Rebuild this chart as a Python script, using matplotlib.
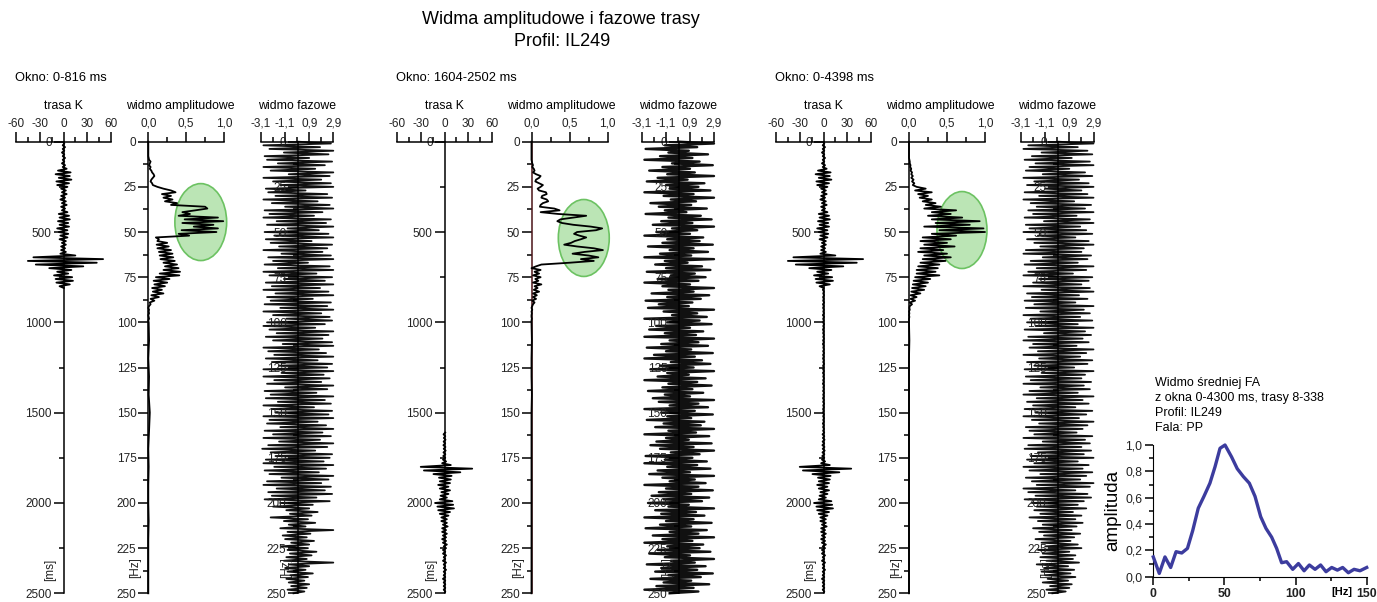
import numpy as np
import matplotlib
matplotlib.use("Agg")
import matplotlib.pyplot as plt
from matplotlib.patches import Ellipse

plt.rcParams['font.family'] = ['Liberation Sans', 'DejaVu Sans']

# ---------------- data ----------------
# trace K, sampled every 10 ms from 0 to 2500 ms
czas_ms = np.arange(0, 2510, 10)
trasa_K = [
    # 0-140 ms
    0, 1, -1, 2, -1, 1, -2, 1, -1, 2, -1, 1, -2, 2, -1,
    # 150-260 ms
    4, -7, 9, -10, 8, -6, 10, -9, 7, -8, 5, -3,
    # 270-380 ms
    3, -2, 4, -3, 2, -4, 3, -2, 4, -3, 2, -2,
    # 390-540 ms
    5, -6, 7, -5, 8, -7, 6, -5, 7, -8, 5, -6, 6, -4, 5, -5,
    # 550-620 ms
    3, -2, 3, -3, 2, -3, 3, -4,
    # 630-700 ms
    15, -38, 50, -45, 42, -35, 25, -18,
    # 710-730 ms
    10, -8, 6,
    # 740-800 ms
    -12, 11, -10, 12, -9, 8, -5,
    # 810-1740 ms
    0.5, -0.8, 0.6, -0.4, 0.7, -0.6, 0.3, -0.5, 0.8, -0.7,
    0.4, -0.6, 0.5, -0.3, 0.6, -0.8, 0.7, -0.5, 0.4, -0.6,
    0.8, -0.4, 0.5, -0.7, 0.3, -0.5, 0.6, -0.4, 0.7, -0.6,
    0.5, -0.8, 0.4, -0.3, 0.6, -0.5, 0.7, -0.6, 0.4, -0.7,
    0.5, -0.4, 0.8, -0.6, 0.3, -0.5, 0.6, -0.7, 0.5, -0.4,
    0.7, -0.5, 0.4, -0.8, 0.6, -0.3, 0.5, -0.6, 0.7, -0.4,
    0.4, -0.7, 0.6, -0.5, 0.8, -0.4, 0.5, -0.6, 0.3, -0.7,
    0.6, -0.5, 0.7, -0.4, 0.5, -0.8, 0.4, -0.6, 0.7, -0.5,
    0.9, -1.2, 1.0, -0.8, 1.3, -1.1, 0.9, -1.4, 1.2, -1.0,
    1.5, -1.3, 1.1, -1.6,
    # 1750-2080 ms
    1, -2, 2, -3,
    8, -30, 35, -26, 20, -14, 9,
    -7, 8, -6, 7, -8, 5, -6, 7, -4, 5, -5, 3,
    -6, 10, -12, 11, -9, 12, -8, 7, -6, 5, -4,
    # 2090-2500 ms
    3, -4, 3, -2, 4, -3, 2, -3, 3, -2,
    2, -3, 2, -2, 3, -1, 2, -2, 1, -2,
    2, -1, 1, -2, 2, -1, 1, -1, 2, -1,
    1, -1, 1, -2, 1, -1, 1, -1, 1, -1,
    1, 0,
]

okna = [(0, 816), (1604, 2502), (0, 4398)]
okna_txt = ["Okno: 0-816 ms", "Okno: 1604-2502 ms", "Okno: 0-4398 ms"]

# amplitude spectra: 1 Hz step up to 100 Hz, then 10 Hz step
f_amp = np.concatenate([np.arange(0, 101), np.arange(110, 251, 10)])
amp_1 = [
    0, 0, 0, 0, 0, 0, 0, 0, 0, 0.005,
    0.01, 0.03, 0.02, 0.01, 0.03, 0.02, 0.04, 0.05, 0.07, 0.08,
    0.06, 0.04, 0.03, 0.05, 0.06, 0.12, 0.2, 0.3, 0.36, 0.18,
    0.3, 0.2, 0.32, 0.22, 0.38, 0.3, 0.75, 0.78, 0.62, 0.45,
    0.55, 0.4, 0.92, 0.48, 0.99, 0.45, 0.86, 0.6, 0.92, 0.44,
    0.9, 0.4, 0.54, 0.1, 0.14, 0.12, 0.25, 0.11, 0.27, 0.12,
    0.3, 0.14, 0.32, 0.15, 0.33, 0.16, 0.35, 0.2, 0.38, 0.22,
    0.4, 0.2, 0.42, 0.15, 0.41, 0.1, 0.28, 0.07, 0.25, 0.08,
    0.22, 0.05, 0.18, 0.06, 0.2, 0.04, 0.14, 0.03, 0.08, 0.02,
    0.03, 0.01, 0.0, 0.01, 0.005, 0.01, 0.0, 0.005, 0.01, 0.0,
    0.005,
    0.01, 0.0, 0.01, 0.005, 0.02, 0.01, 0.0, 0.005, 0.0, 0.0,
    0.005, 0.0, 0.0, 0.0, 0.0,
]
amp_2 = [
    0, 0, 0, 0, 0, 0, 0, 0, 0, 0,
    0, 0.005, 0.01, 0.02, 0.01, 0.03, 0.04, 0.02, 0.06, 0.12,
    0.1, 0.06, 0.05, 0.1, 0.15, 0.12, 0.08, 0.1, 0.19, 0.2,
    0.14, 0.13, 0.2, 0.22, 0.15, 0.12, 0.11, 0.3, 0.37, 0.12,
    0.35, 0.72, 0.55, 0.38, 0.34, 0.4, 0.55, 0.78, 0.93, 0.85,
    0.6, 0.56, 0.63, 0.72, 0.65, 0.57, 0.52, 0.43, 0.6, 0.82,
    0.94, 0.7, 0.54, 0.75, 0.88, 0.65, 0.82, 0.5, 0.13, 0.06,
    0.0, 0.12, 0.04, 0.1, 0.02, 0.12, 0.05, 0.09, 0.02, 0.13,
    0.04, 0.08, 0.03, 0.1, 0.02, 0.07, 0.02, 0.06, 0.01, 0.04,
    0.02, 0.01, 0.0, 0.01, 0.0, 0.005, 0.0, 0.0, 0.005, 0.0,
    0.0,
    0.005, 0.0, 0.0, 0.005, 0.0, 0.0, 0.0, 0.0, 0.0, 0.0,
    0.0, 0.0, 0.0, 0.0, 0.0,
]
amp_3 = [
    0, 0, 0, 0, 0, 0, 0, 0, 0, 0,
    0.005, 0.01, 0.01, 0.02, 0.015, 0.03, 0.02, 0.04, 0.03, 0.05,
    0.03, 0.06, 0.04, 0.07, 0.05, 0.1, 0.22, 0.08, 0.3, 0.12,
    0.25, 0.14, 0.3, 0.18, 0.35, 0.22, 0.42, 0.2, 0.62, 0.3,
    0.55, 0.25, 0.7, 0.3, 0.93, 0.35, 0.8, 0.2, 0.98, 0.4,
    1.0, 0.3, 0.62, 0.18, 0.55, 0.15, 0.5, 0.2, 0.6, 0.15,
    0.45, 0.12, 0.5, 0.2, 0.55, 0.18, 0.48, 0.15, 0.4, 0.12,
    0.38, 0.1, 0.35, 0.1, 0.4, 0.08, 0.28, 0.06, 0.25, 0.05,
    0.22, 0.04, 0.2, 0.03, 0.15, 0.02, 0.1, 0.02, 0.08, 0.01,
    0.04, 0.01, 0.005, 0.01, 0.0, 0.005, 0.0, 0.005, 0.0, 0.0,
    0.0,
    0.005, 0.0, 0.0, 0.0, 0.0, 0.0, 0.0, 0.0, 0.0, 0.0,
    0.0, 0.0, 0.0, 0.0, 0.0,
]

# phase spectra, 1 Hz step
f_faz = np.arange(0, 251, 1)
faz_1 = [
    0.0, 2.7, -2.9, 1.8, -2.4, 2.9, -1.2, 2.5, -2.8, 0.9,
    -2.6, 2.8, -1.7, 2.2, -2.9, 1.4, -2.3, 2.9, -0.8, 2.6,
    -2.9, 1.9, -2.1, 2.7, -1.5, 2.9, -2.7, 0.6, -2.5, 2.4,
    -1.9, 2.8, -2.9, 1.6, -2.2, 2.6, -1.1, 2.9, -2.8, 2.0,
    -2.4, 1.3, -2.9, 2.7, -1.8, 2.3, -2.6, 2.9, -0.9, 1.7,
    -2.8, 2.5, -2.0, 2.9, -2.7, 1.1, -2.3, 2.8, -1.6, 2.4,
    -2.9, 2.0, -1.4, 2.7, -2.5, 2.9, -2.1, 0.8, -2.8, 2.6,
    -1.7, 2.9, -2.9, 1.5, -2.4, 2.8, -1.2, 2.2, -2.7, 2.9,
    -2.2, 1.8, -2.9, 2.5, -1.9, 2.9, -2.6, 1.2, -2.3, 2.7,
    -2.8, 2.4, -1.5, 2.9, -2.9, 1.9, -2.1, 2.6, -1.0, 2.8,
    -2.6, 2.2, -2.9, 1.4, -2.4, 2.9, -1.8, 2.5, -2.7, 2.0,
    -2.1, 2.8, -1.3, 2.9, -2.9, 1.7, -2.5, 2.3, -2.0, 2.9,
    -2.7, 1.6, -2.2, 2.8, -1.6, 2.4, -2.9, 2.9, -1.4, 2.1,
    -2.9, 2.6, -2.0, 1.9, -2.6, 2.9, -1.1, 2.4, -2.8, 1.5,
    -2.3, 2.9, -2.7, 2.2, -1.7, 2.7, -2.9, 1.3, -2.2, 2.8,
    -1.9, 2.5, -2.9, 2.9, -2.4, 1.6, -2.6, 2.3, -1.5, 2.9,
    -2.8, 2.0, -2.1, 2.7, -2.9, 1.8, -1.6, 2.9, -2.5, 2.4,
    -3.0, 1.4, -2.3, 2.8, -1.9, 2.6, -2.7, 2.1, -2.9, 2.9,
    -2.0, 2.3, -2.8, 1.7, -2.4, 2.9, -1.4, 2.5, -2.6, 1.9,
    -2.9, 2.7, -1.8, 2.2, -2.5, 2.8, -2.2, 1.5, -2.8, 2.6,
    -1.5, 1.2, -2.1, 0.9, -1.0, 1.6, -0.7, 1.1, -2.3, 0.8,
    -1.2, 1.4, -0.8, 0.6, -1.5, 2.9, -0.9, 1.0, -1.3, 0.7,
    -1.1, 1.3, -0.6, 0.9, -1.4, 0.8, -0.9, 1.5, -0.7, 1.1,
    -1.0, 0.7, -1.2, 2.9, -0.8, 0.9, -1.1, 0.6, -0.9, 1.2,
    -0.7, 0.8, -1.0, 0.5, -0.8, 0.9, -0.6, 0.7, -0.9, 0.5,
    -0.4,
]
faz_2 = [
    0.0, 2.9, -1.2, 1.5, -2.8, 0.8, -0.9, 2.4, -1.6, 1.1,
    -2.9, 1.7, -0.6, 2.8, -1.4, 0.9, -2.5, 1.3, -1.0, 2.9,
    -1.8, 0.7, -2.7, 2.1, -1.1, 1.6, -0.8, 2.6, -2.9, 1.2,
    -1.3, 2.9, -0.7, 1.4, -2.4, 1.0, -1.7, 2.3, -1.2, 0.6,
    -2.8, 1.8, -0.9, 2.7, -1.5, 1.1, -2.2, 2.9, -0.6, 1.5,
    -1.9, 0.9, -2.9, 2.0, -1.0, 1.7, -1.4, 2.8, -2.6, 1.2,
    -0.8, 2.4, -1.6, 1.0, -2.9, 2.9, -1.2, 0.7, -2.0, 1.9,
    -1.1, 2.6, -2.7, 1.3, -0.7, 2.2, -1.8, 1.6, -2.9, 0.9,
    -1.4, 2.9, -0.9, 1.2, -2.3, 2.5, -1.0, 1.8, -2.8, 1.1,
    -1.7, 0.8, -2.6, 2.9, -1.3, 1.5, -0.6, 2.3, -2.9, 1.7,
    -1.0, 2.7, -1.9, 0.9, -2.5, 2.0, -1.2, 1.4, -2.9, 2.9,
    -0.8, 1.6, -1.5, 2.4, -2.7, 1.0, -1.1, 2.8, -2.1, 1.3,
    -2.9, 1.9, -0.7, 2.6, -1.6, 1.2, -2.4, 2.9, -1.0, 0.8,
    -1.8, 2.2, -2.9, 1.5, -0.9, 2.7, -1.4, 1.1, -2.6, 2.0,
    -1.2, 0.9, -2.2, 2.9, -1.7, 1.6, -0.8, 2.4, -2.9, 1.3,
    -1.5, 2.8, -1.0, 1.0, -2.7, 2.1, -1.3, 1.8, -2.0, 2.9,
    -0.9, 1.4, -2.9, 2.5, -1.1, 0.8, -1.9, 2.7, -2.4, 1.2,
    -1.6, 2.9, -0.7, 1.7, -2.8, 1.1, -1.2, 2.3, -2.9, 1.5,
    -1.0, 2.6, -1.8, 0.9, -2.5, 2.9, -1.4, 1.3, -0.8, 2.2,
    -2.9, 1.6, -1.1, 2.8, -1.7, 1.0, -2.3, 2.5, -1.3, 1.9,
    -2.6, 0.8, -0.9, 2.9, -2.0, 1.4, -1.5, 2.1, -2.9, 1.2,
    -1.1, 2.7, -1.6, 1.0, -2.8, 2.3, -0.8, 1.6, -2.2, 2.9,
    -1.4, 1.1, -2.9, 2.0, -1.0, 1.7, -1.8, 2.6, -2.5, 0.9,
    -1.2, 2.9, -0.7, 1.3, -2.7, 2.2, -1.5, 1.5, -2.0, 2.8,
    -0.9, 1.8, -2.4, 1.0, -1.3, 2.5, -1.9, 1.2, -2.9, 1.6,
    -0.8,
]
faz_3 = [
    0.0, 2.9, -2.5, 1.6, -2.9, 2.4, -1.4, 2.8, -2.2, 1.1,
    -2.8, 2.6, -1.9, 2.9, -2.4, 0.9, -2.7, 2.2, -1.3, 2.8,
    -2.9, 1.7, -2.0, 2.5, -2.6, 2.9, -1.1, 1.9, -2.8, 2.4,
    -1.6, 2.9, -2.9, 1.3, -2.3, 2.7, -1.8, 2.2, -2.5, 2.9,
    -2.1, 1.5, -2.8, 2.6, -1.2, 2.9, -2.7, 1.8, -2.4, 2.3,
    -2.9, 2.8, -1.7, 1.4, -2.6, 2.5, -2.0, 2.9, -1.5, 2.1,
    -2.7, 1.9, -2.9, 2.7, -1.3, 2.4, -2.3, 1.6, -2.8, 2.9,
    -1.8, 2.3, -2.5, 1.2, -2.9, 2.8, -1.6, 2.5, -2.1, 1.9,
    -2.9, 2.6, -1.4, 2.9, -2.6, 1.7, -2.2, 2.4, -2.8, 1.4,
    -2.0, 2.9, -2.7, 2.1, -1.5, 2.6, -2.9, 1.8, -2.3, 2.8,
    -2.6, 1.6, -1.9, 2.9, -2.8, 2.2, -1.2, 2.7, -2.5, 2.0,
    -2.9, 2.5, -2.1, 1.5, -2.4, 2.9, -1.7, 2.3, -2.9, 1.8,
    -1.6, 2.8, -2.6, 2.4, -2.0, 1.3, -2.8, 2.9, -1.4, 2.2,
    -2.7, 1.9, -2.3, 2.7, -2.9, 2.1, -1.5, 2.6, -2.4, 1.6,
    -2.9, 2.9, -1.8, 2.0, -2.6, 2.5, -2.1, 1.4, -2.8, 2.8,
    -1.9, 2.3, -2.9, 1.7, -2.2, 2.9, -1.6, 2.4, -2.7, 2.0,
    -2.4, 1.5, -2.0, 2.8, -2.9, 2.2, -1.3, 2.6, -2.5, 1.9,
    -2.8, 2.7, -1.7, 2.1, -2.3, 2.9, -2.6, 1.6, -2.0, 2.5,
    -2.9, 2.0, -2.4, 2.8, -1.5, 2.3, -2.7, 1.8, -2.2, 2.9,
    -1.8, 2.6, -2.9, 1.4, -2.5, 2.4, -1.9, 2.7, -2.8, 2.1,
    -2.2, 1.6, -1.8, 2.3, -2.0, 1.2, -1.5, 1.9, -2.4, 1.4,
    -1.7, 2.0, -1.3, 1.5, -2.1, 1.1, -1.6, 1.8, -1.2, 1.3,
    -1.9, 1.0, -1.4, 1.6, -1.1, 1.9, -1.7, 0.9, -1.3, 1.4,
    -1.5, 1.2, -1.0, 1.7, -1.8, 0.8, -1.2, 1.3, -1.4, 1.0,
    -1.1, 1.4, -0.9, 0.8, -1.3, 1.1, -0.7, 0.9, -1.0, 0.6,
    -0.5,
]

# averaged spectrum of the section
f_sr = [0, 4.2, 8.2, 12.2, 16, 20, 24, 27.7, 31.6, 35.6, 39.8, 43.4, 46.9,
        50.4, 55, 59, 63.3, 67.5, 71.5, 75.5, 79.2, 83.2, 86.7, 90.2, 93.7,
        98, 102, 106, 109.7, 113.7, 117.6, 121.4, 125.4, 129.4, 133.1, 137.1,
        141.1, 145.3, 150]
a_sr = [0.15, 0.025, 0.15, 0.07, 0.19, 0.18, 0.215, 0.35, 0.52, 0.61, 0.71,
        0.835, 0.975, 1.0, 0.91, 0.82, 0.76, 0.71, 0.61, 0.455, 0.367, 0.30,
        0.215, 0.106, 0.114, 0.056, 0.10, 0.045, 0.089, 0.056, 0.089, 0.038,
        0.07, 0.05, 0.07, 0.03, 0.056, 0.045, 0.07]

# highlighted band in each amplitude spectrum: (amp centre, Hz centre, width, height)
wyrozn = [(0.693, 44.5, 0.684, 42.6), (0.688, 53.3, 0.67, 42.6), (0.697, 48.9, 0.658, 42.6)]

# ---------------- layout ----------------
W, H = 1377, 602
fig = plt.figure(figsize=(W / 100, H / 100), dpi=100)
fig.patch.set_facecolor('white')

Y_TOP, Y_BOT = 141.7, 593.3
panele = [
    dict(trasa=(16, 111), amp=(148.3, 224), faz=(261, 333.3), dx=0),
    dict(trasa=(397, 492), amp=(531.5, 607.5), faz=(642, 714), dx=381),
    dict(trasa=(776, 871), amp=(909, 985), faz=(1021, 1093.5), dx=760),
]
TICK_FS = 8.5


def ax_px(x0, x1, y0, y1):
    return fig.add_axes([x0 / W, 1 - y1 / H, (x1 - x0) / W, (y1 - y0) / H])


def ftext(x, y, s, **kw):
    return fig.text(x / W, 1 - y / H, s, **kw)


def styl(ax, xlim, xmaj, xmin, xlab, ymax, ymaj, ymin, spine_x, kolor='black'):
    ax.set_xlim(*xlim)
    ax.set_ylim(ymax, 0)
    ax.patch.set_alpha(0)
    ax.spines['right'].set_visible(False)
    ax.spines['bottom'].set_visible(False)
    ax.spines['left'].set_position(('data', spine_x))
    ax.spines['left'].set_color(kolor)
    ax.spines['left'].set_linewidth(1.1)
    ax.spines['top'].set_linewidth(1.1)
    ax.xaxis.tick_top()
    ax.set_xticks(xmaj)
    ax.set_xticklabels(xlab)
    ax.set_xticks(xmin, minor=True)
    ax.set_yticks(ymaj)
    ax.set_yticklabels([str(v) for v in ymaj])
    ax.set_yticks(ymin, minor=True)
    ax.tick_params(which='major', length=7, width=1.1, labelsize=TICK_FS,
                   labelcolor='#222222', pad=1.5)
    ax.tick_params(which='minor', length=3.5, width=1.1)
    ax.tick_params(axis='x', which='both', direction='out', top=True,
                   bottom=False, labeltop=True, labelbottom=False)
    ax.tick_params(axis='y', which='both', direction='out', left=True, right=False)


ms_maj = [0, 500, 1000, 1500, 2000, 2500]
ms_min = [250, 750, 1250, 1750, 2250]
hz_maj = [0, 25, 50, 75, 100, 125, 150, 175, 200, 225, 250]
hz_min = [12.5, 37.5, 62.5, 87.5, 112.5, 137.5, 162.5, 187.5, 212.5, 237.5]

ftext(561, 20, "Widma amplitudowe i fazowe trasy", ha='center', va='center', fontsize=13)
ftext(562, 42, "Profil: IL249", ha='center', va='center', fontsize=13)

czas = np.asarray(czas_ms)
trasa = np.asarray(trasa_K, dtype=float)
amplitudy = [amp_1, amp_2, amp_3]
fazy = [faz_1, faz_2, faz_3]

for i, p in enumerate(panele):
    dx = p['dx']
    ftext(15 + dx, 78, okna_txt[i], ha='left', va='center', fontsize=9.3)
    ftext(63 + dx, 106, "trasa K", ha='center', va='center', fontsize=8.8)
    ftext(180 + dx, 106, "widmo amplitudowe", ha='center', va='center', fontsize=8.8)
    ftext(297 + dx, 106, "widmo fazowe", ha='center', va='center', fontsize=8.8)

    # trace panel
    ax = ax_px(p['trasa'][0], p['trasa'][1], Y_TOP, Y_BOT)
    styl(ax, (-60, 60), [-60, -30, 0, 30, 60], [-45, -15, 15, 45],
         ['-60', '-30', '0', '30', '60'], 2500, ms_maj, ms_min, 0)
    t0, t1 = okna[i]
    m = (czas >= t0) & (czas <= t1)
    ax.plot(trasa[m], czas[m], color='black', lw=1.3, zorder=3)
    ax.text(-17, 2370, "[ms]", rotation=90, ha='center', va='center', fontsize=8.5,
            color='#222222')

    # amplitude spectrum panel
    ax = ax_px(p['amp'][0], p['amp'][1], Y_TOP, Y_BOT)
    kol = '#4a1418' if i == 1 else 'black'
    styl(ax, (0, 1), [0, 0.5, 1.0], [0.25, 0.75], ['0,0', '0,5', '1,0'],
         250, hz_maj, hz_min, 0, kolor=kol)
    cx, cy, ew, eh = wyrozn[i]
    ax.add_patch(Ellipse((cx, cy), ew, eh, facecolor=(0.56, 0.83, 0.52, 0.6),
                         edgecolor='#6cc262', lw=1.2, clip_on=False, zorder=1))
    ax.plot(amplitudy[i], f_amp, color='black', lw=1.3, zorder=3, clip_on=False)
    ax.text(-0.17, 236, "[Hz]", rotation=90, ha='center', va='center', fontsize=8.5,
            color='#222222')

    # phase spectrum panel
    ax = ax_px(p['faz'][0], p['faz'][1], Y_TOP, Y_BOT)
    styl(ax, (-3.1, 2.9), [-3.1, -1.1, 0.9, 2.9], [-2.1, -0.1, 1.9],
         ['-3,1', '-1,1', '0,9', '2,9'], 250, hz_maj, hz_min, 0)
    ax.plot(fazy[i], f_faz, color='#111111', lw=1.7 if i == 1 else 1.3,
            zorder=1, clip_on=False)
    ax.text(-1.0, 236, "[Hz]", rotation=90, ha='center', va='center', fontsize=8.5,
            color='#222222')

# averaged spectrum inset
opis = ["Widmo średniej FA", "z okna 0-4300 ms, trasy 8-338", "Profil: IL249", "Fala: PP"]
for k, s in enumerate(opis):
    ftext(1155, 383 + 15 * k, s, ha='left', va='center', fontsize=9)

axi = ax_px(1153.3, 1366.7, 445, 576.7)
axi.plot(f_sr, a_sr, color='#3c3c9e', lw=2.4, clip_on=False, zorder=3)
axi.set_xlim(0, 150)
axi.set_ylim(0, 1.0)
axi.spines['top'].set_visible(False)
axi.spines['right'].set_visible(False)
axi.set_xticks([0, 50, 100, 150])
axi.set_xticks([25, 75, 125], minor=True)
axi.set_yticks([0, 0.2, 0.4, 0.6, 0.8, 1.0])
axi.set_yticklabels(['0,0', '0,2', '0,4', '0,6', '0,8', '1,0'])
axi.set_yticks([0.1, 0.3, 0.5, 0.7, 0.9], minor=True)
axi.tick_params(which='major', direction='out', length=6, width=1.1, labelsize=8.8,
                labelcolor='#222222', pad=2)
axi.tick_params(which='minor', direction='out', length=3, width=1.1)
for lbl in axi.get_xticklabels():
    lbl.set_fontweight('bold')
ftext(1113, 510, "amplituda", rotation=90, ha='center', va='center', fontsize=13.5)
ftext(1342, 592, "[Hz]", ha='center', va='center', fontsize=8, fontweight='bold')

fig.savefig("out.png", dpi=100, facecolor='white')
